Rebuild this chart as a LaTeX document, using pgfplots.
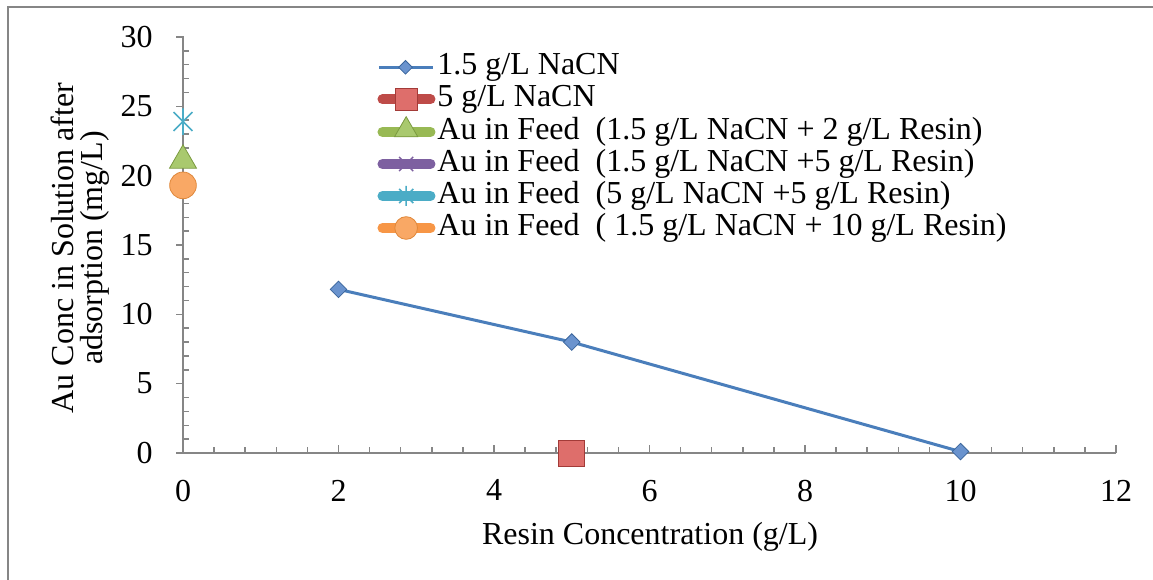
\documentclass[border=0pt]{standalone}
\usepackage{fontspec}
\setmainfont{Liberation Serif}
\usepackage{pgfplots}
\pgfplotsset{compat=1.18}
\definecolor{sblue}{HTML}{4A7EBB}
\definecolor{sbluefill}{HTML}{6A93CE}
\definecolor{sbluedraw}{HTML}{3A659C}
\definecolor{sred}{HTML}{BE4B48}
\definecolor{sredfill}{HTML}{DE6E6B}
\definecolor{sreddraw}{HTML}{A33B38}
\definecolor{sgreen}{HTML}{98B954}
\definecolor{sgreenfill}{HTML}{A9C96E}
\definecolor{sgreendraw}{HTML}{7A9A3F}
\definecolor{spurple}{HTML}{7D60A0}
\definecolor{scyan}{HTML}{4BACC6}
\definecolor{sorange}{HTML}{F79646}
\definecolor{sorangefill}{HTML}{F9A865}
\definecolor{sorangedraw}{HTML}{E0883A}
\definecolor{axgray}{HTML}{868686}
\pgfdeclareplotmark{xstar}{%
  \pgfpathmoveto{\pgfpoint{0pt}{\pgfplotmarksize}}%
  \pgfpathlineto{\pgfpoint{0pt}{-\pgfplotmarksize}}%
  \pgfpathmoveto{\pgfpoint{0.7071\pgfplotmarksize}{0.7071\pgfplotmarksize}}%
  \pgfpathlineto{\pgfpoint{-0.7071\pgfplotmarksize}{-0.7071\pgfplotmarksize}}%
  \pgfpathmoveto{\pgfpoint{-0.7071\pgfplotmarksize}{0.7071\pgfplotmarksize}}%
  \pgfpathlineto{\pgfpoint{0.7071\pgfplotmarksize}{-0.7071\pgfplotmarksize}}%
  \pgfusepathqstroke}
\begin{document}
\begin{tikzpicture}
\useasboundingbox (0pt,0pt) rectangle (864.75pt,-435pt);
\draw[axgray, line width=1pt] (6pt,-435pt) -- (6pt,-5.25pt) -- (864.75pt,-5.25pt);
\begin{axis}[
  at={(137.25pt,-339.75pt)}, anchor=south west,
  scale only axis, width=699.75pt, height=312pt,
  xmin=0, xmax=12, ymin=0, ymax=30,
  xtick={0,2,...,12}, ytick={0,5,...,30},
  minor x tick num=4, minor y tick num=4,
  axis x line*=bottom, axis y line*=left,
  axis line style={axgray, line width=1.1pt, -},
  tick style={axgray, line width=1.1pt},
  tick align=inside,
  major tick length=6pt, minor tick length=4.5pt,
  every major y tick/.append style={xshift=-5pt},
  clip=false,
  font=\fontsize{24}{27}\selectfont,
  /pgf/number format/assume math mode=true,
  xticklabel style={inner sep=0pt, anchor=north, yshift=-20pt},
  yticklabel style={inner sep=0pt, anchor=east, xshift=-22.5pt},
  legend cell align=left,
  legend style={at={(0.208,0.963)}, anchor=north west, draw=none, fill=none,
    inner sep=0pt, row sep=2pt, column sep=1.5pt,
    font=\fontsize{24}{27}\selectfont,
    nodes={inner sep=0pt, text height=16.5pt, text depth=5.5pt}},
]
\addplot[sblue, line width=2.25pt, mark=square*, mark size=4.4pt,
  mark options={rotate=45, fill=sbluefill, draw=sbluedraw, line width=0.6pt},
  legend image code/.code={
    \draw[sblue, line width=2.25pt] (1pt,0pt) -- (41.5pt,0pt);
    \draw[draw=sbluedraw, fill=sbluefill, line width=0.6pt] plot[mark=square*, mark size=3.6pt, mark options={rotate=45}] coordinates {(21pt,0pt)};
  }]
  coordinates {(2,11.8) (5,8.0) (10,0.1)};
\addlegendentry{1.5 g/L NaCN}
\addplot[only marks, mark=square*, mark size=9.75pt,
  mark options={fill=sredfill, draw=sreddraw, line width=0.6pt},
  legend image code/.code={
    \draw[sred, line width=7.5pt, line cap=round] (3.75pt,0pt) -- (39.75pt,0pt);
    \draw[draw=sreddraw, fill=sredfill, line width=0.6pt] plot[mark=square*, mark size=8.25pt] coordinates {(21.5pt,0pt)};
  }]
  coordinates {(5,0)};
\addlegendentry{5 g/L NaCN}
\addplot[only marks, mark=triangle*, mark size=11.7pt,
  mark options={fill=sgreenfill, draw=sgreendraw, line width=0.6pt},
  legend image code/.code={
    \draw[sgreen, line width=7.5pt, line cap=round] (3.75pt,0pt) -- (39.75pt,0pt);
    \draw[draw=sgreendraw, fill=sgreenfill, line width=0.6pt] plot[mark=triangle*, mark size=10pt] coordinates {(21.5pt,1.5pt)};
  }]
  coordinates {(0,21.1)};
\addlegendentry{Au in Feed\ \ (1.5 g/L NaCN + 2 g/L Resin)}
\addplot[only marks, mark=x, mark size=10pt,
  mark options={draw=spurple, line width=1pt},
  legend image code/.code={
    \draw[spurple, line width=7.5pt, line cap=round] (3.75pt,0pt) -- (39.75pt,0pt);
    \draw[draw=spurple, line width=1pt] plot[mark=x, mark size=7.5pt] coordinates {(21.5pt,0pt)};
  }]
  coordinates {(0,19.3)};
\addlegendentry{Au in Feed\ \ (1.5 g/L NaCN +5 g/L Resin)}
\addplot[only marks, mark=xstar, mark size=10pt,
  mark options={draw=scyan, line width=1.2pt},
  legend image code/.code={
    \draw[scyan, line width=7.5pt, line cap=round] (3.75pt,0pt) -- (39.75pt,0pt);
    \draw[draw=scyan, line width=1pt] plot[mark=xstar, mark size=7.5pt] coordinates {(21.5pt,0pt)};
  }]
  coordinates {(0,23.9)};
\addlegendentry{Au in Feed\ \ (5 g/L NaCN +5 g/L Resin)}
\addplot[only marks, mark=*, mark size=10pt,
  mark options={fill=sorangefill, draw=sorangedraw, line width=0.6pt},
  legend image code/.code={
    \draw[sorange, line width=7.5pt, line cap=round] (3.75pt,0pt) -- (39.75pt,0pt);
    \draw[draw=sorangedraw, fill=sorangefill, line width=0.6pt] plot[mark=*, mark size=8.5pt] coordinates {(21.5pt,0pt)};
  }]
  coordinates {(0,19.3)};
\addlegendentry{Au in Feed\ \ ( 1.5 g/L NaCN + 10 g/L Resin)}
\end{axis}
\node[rotate=90, align=center, font=\fontsize{24}{22}\selectfont] at (60pt,-186pt) {Au Conc in Solution after\\adsorption (mg/L)};
\node[font=\fontsize{24}{27}\selectfont] at (487.5pt,-402.75pt) {Resin Concentration (g/L)};
\end{tikzpicture}
\end{document}
